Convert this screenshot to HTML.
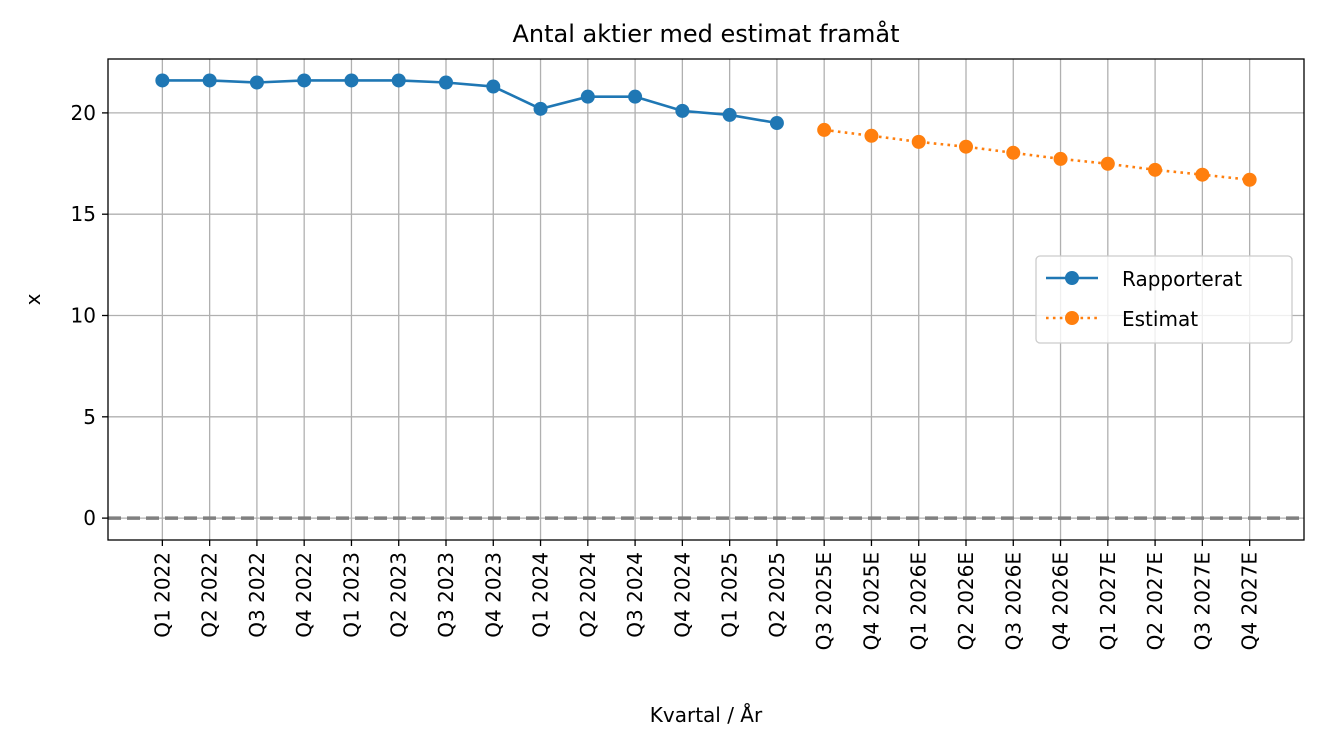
<!DOCTYPE html>
<html><head><meta charset="utf-8"><style>
body{margin:0;background:#fff;}
svg{display:block;font-family:"DejaVu Sans","Liberation Sans",sans-serif;}
</style></head><body>
<svg id="chart" width="1324" height="748"></svg>
<script>
const categories=["Q1 2022","Q2 2022","Q3 2022","Q4 2022","Q1 2023","Q2 2023","Q3 2023","Q4 2023","Q1 2024","Q2 2024","Q3 2024","Q4 2024","Q1 2025","Q2 2025","Q3 2025E","Q4 2025E","Q1 2026E","Q2 2026E","Q3 2026E","Q4 2026E","Q1 2027E","Q2 2027E","Q3 2027E","Q4 2027E"];
const reported=[21.6,21.6,21.5,21.6,21.6,21.6,21.5,21.3,20.2,20.8,20.8,20.1,19.9,19.5];
const estimate=[19.16,18.87,18.57,18.33,18.03,17.73,17.49,17.19,16.95,16.7];
const yTicks=[0,5,10,15,20];
const L=108,R=1304,T=59,B=540;
const xMin=-1.15,xMax=24.15,yMin=-1.08,yMax=22.66;
const sx=i=>L+(i-xMin)/(xMax-xMin)*(R-L);
const sy=v=>B-(v-yMin)/(yMax-yMin)*(B-T);
const NS="http://www.w3.org/2000/svg";
const svg=document.getElementById('chart');
function mk(tag,attrs,parent){const e=document.createElementNS(NS,tag);for(const k in attrs)e.setAttribute(k,attrs[k]);(parent||svg).appendChild(e);return e;}
categories.forEach((c,i)=>{
  const g=mk('line',{x1:sx(i),x2:sx(i),y1:T,y2:B,stroke:'#b0b0b0','stroke-width':1.3});
  
  
});
yTicks.forEach(v=>{
  const g=mk('line',{x1:L,x2:R,y1:sy(v),y2:sy(v),stroke:'#b0b0b0','stroke-width':1.3});
  
  
});
const z=mk('line',{x1:L,x2:R,y1:sy(0),y2:sy(0),stroke:'#808080','stroke-width':3.5,'stroke-dasharray':'13,6'});


const rp=mk('polyline',{points:reported.map((v,i)=>sx(i)+','+sy(v)).join(' '),fill:'none',stroke:'#1f77b4','stroke-width':2.6});


reported.forEach((v,i)=>{
  const c=mk('circle',{cx:sx(i),cy:sy(v),r:7,fill:'#1f77b4'});
  
  
});
const off=reported.length;
const ep=mk('polyline',{points:estimate.map((v,i)=>sx(i+off)+','+sy(v)).join(' '),fill:'none',stroke:'#ff7f0e','stroke-width':2.6,'stroke-dasharray':'2.6,4.3'});


estimate.forEach((v,i)=>{
  const c=mk('circle',{cx:sx(i+off),cy:sy(v),r:7,fill:'#ff7f0e'});
  
  
});
const fr=mk('rect',{x:L,y:T,width:R-L,height:B-T,fill:'none',stroke:'#000','stroke-width':1.3});


yTicks.forEach(v=>{
  mk('line',{x1:L-6,x2:L,y1:sy(v),y2:sy(v),stroke:'#000','stroke-width':1.3});
  const t=mk('text',{x:L-12,y:sy(v)+7,'text-anchor':'end','font-size':20});
  t.textContent=v;
  
  
});
categories.forEach((c,i)=>{
  mk('line',{x1:sx(i),x2:sx(i),y1:B,y2:B+6,stroke:'#000','stroke-width':1.3});
  const t=mk('text',{transform:`translate(${sx(i)+7},${B+12}) rotate(-90)`,'text-anchor':'end','font-size':20});
  t.textContent=c;
  
  
});
let t=mk('text',{x:(L+R)/2,y:42,'text-anchor':'middle','font-size':24});
t.textContent='Antal aktier med estimat framåt';


t=mk('text',{x:(L+R)/2,y:722,'text-anchor':'middle','font-size':20});
t.textContent='Kvartal / År';


t=mk('text',{transform:`translate(40,${(T+B)/2}) rotate(-90)`,'text-anchor':'middle','font-size':20});
t.textContent='x';


const lg=mk('g',{});


mk('rect',{x:1036,y:256,width:256,height:87,rx:4,fill:'#fff','fill-opacity':0.8,stroke:'#ccc','stroke-width':1.3},lg);
mk('line',{x1:1046,x2:1098,y1:278,y2:278,stroke:'#1f77b4','stroke-width':2.6},lg);
mk('circle',{cx:1072,cy:278,r:7,fill:'#1f77b4'},lg);
t=mk('text',{x:1122,y:286,'font-size':20},lg);
t.textContent='Rapporterat';


mk('line',{x1:1046,x2:1098,y1:318,y2:318,stroke:'#ff7f0e','stroke-width':2.6,'stroke-dasharray':'2.6,4.3'},lg);
mk('circle',{cx:1072,cy:318,r:7,fill:'#ff7f0e'},lg);
t=mk('text',{x:1122,y:326,'font-size':20},lg);
t.textContent='Estimat';


</script>
</body></html>
